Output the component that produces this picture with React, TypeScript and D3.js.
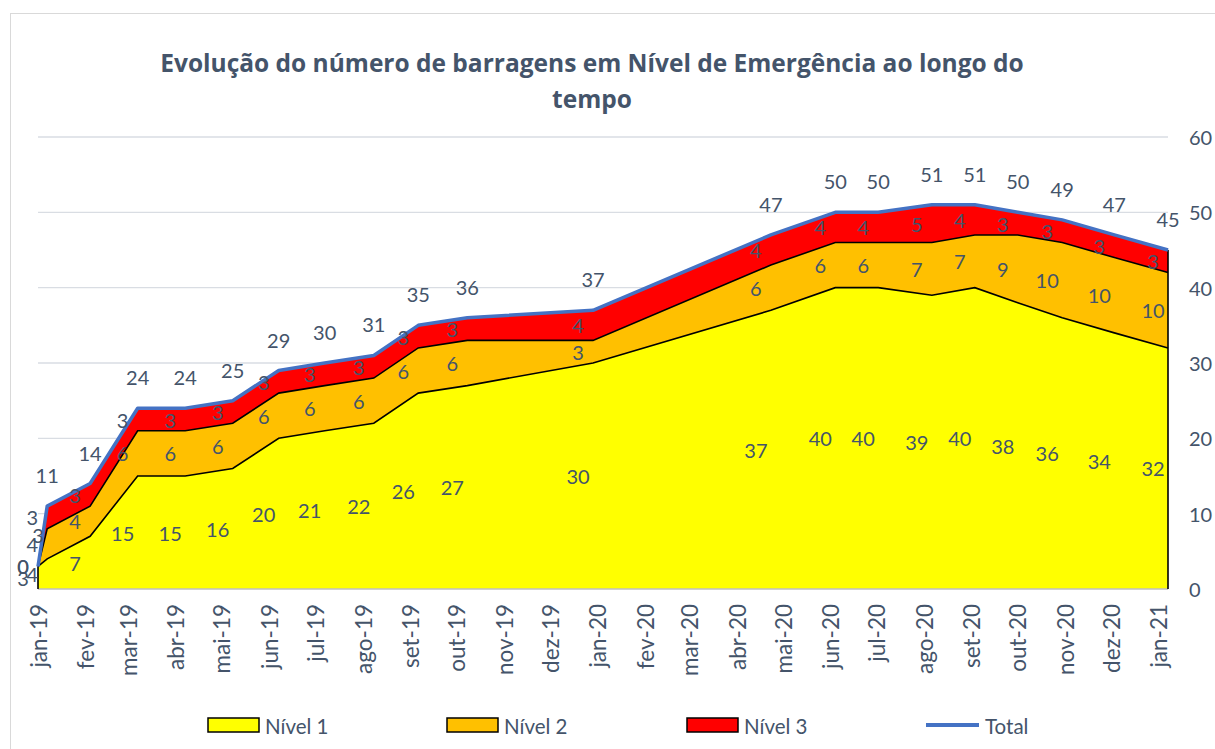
import React from "react";
import * as d3 from "d3";

const dates = [
  "2019-01-01", "2019-01-07", "2019-02-04", "2019-03-07", "2019-04-07", "2019-05-08",
  "2019-06-07", "2019-07-07", "2019-08-08", "2019-09-06", "2019-10-08", "2019-12-29",
  "2020-04-23", "2020-06-04", "2020-07-02", "2020-08-06", "2020-09-03", "2020-10-01",
  "2020-10-30", "2020-12-03", "2021-01-07",
];
const nivel1 = [3, 4, 7, 15, 15, 16, 20, 21, 22, 26, 27, 30, 37, 40, 40, 39, 40, 38, 36, 34, 32];
const nivel2 = [0, 4, 4, 6, 6, 6, 6, 6, 6, 6, 6, 3, 6, 6, 6, 7, 7, 9, 10, 10, 10];
const nivel3 = [0, 3, 3, 3, 3, 3, 3, 3, 3, 3, 3, 4, 4, 4, 4, 5, 4, 3, 3, 3, 3];
const total = [3, 11, 14, 24, 24, 25, 29, 30, 31, 35, 36, 37, 47, 50, 50, 51, 51, 50, 49, 47, 45];

const monthNames = ["jan", "fev", "mar", "abr", "mai", "jun", "jul", "ago", "set", "out", "nov", "dez"];
const yTicks = [0, 10, 20, 30, 40, 50, 60];
const seriesNames = ["Nível 1", "Nível 2", "Nível 3"];
const seriesColors = ["#FFFF00", "#FFC000", "#FF0000"];
const titleLines = ["Evolução do número de barragens em Nível de Emergência ao longo do", "tempo"];

const W = 1215;
const H = 749;
const FONT = "Lato, 'Open Sans', sans-serif";
const TXT = "#44546A";

export default function App() {
  const parse = d3.timeParse("%Y-%m-%d");
  const xs = dates.map((d) => parse(d) as Date);
  const x = d3.scaleTime().domain([xs[0], xs[xs.length - 1]]).range([38, 1168]);
  const y = d3.scaleLinear().domain([0, 60]).range([589, 137]);

  const rows = xs.map((d, i) => ({ d, a: nivel1[i], b: nivel2[i], c: nivel3[i], t: total[i] }));
  const stack = d3.stack<any>().keys(["a", "b", "c"])(rows);

  const area = d3
    .area<any>()
    .x((p: any) => x(p.data.d))
    .y0((p: any) => y(p[0]))
    .y1((p: any) => y(p[1]));
  const topLine = d3
    .line<any>()
    .x((p: any) => x(p.data.d))
    .y((p: any) => y(p[1]));
  const totalLine = d3
    .line<any>()
    .x((r: any) => x(r.d))
    .y((r: any) => y(r.t));

  const monthTicks = d3.timeMonth.range(xs[0], d3.timeDay.offset(xs[xs.length - 1], 1));
  const fmtTick = (d: Date) => `${monthNames[d.getMonth()]}-${String(d.getFullYear()).slice(2)}`;

  const first = rows[0];
  const last = rows[rows.length - 1];

  const legendX = [208, 447, 687];

  return (
    <svg
      width={W}
      height={H}
      style={{ position: "absolute", left: 0, top: 0, background: "#fff" }}
      fontFamily={FONT}
    >
      <rect x={10.5} y={13.5} width={W + 10} height={H + 10} fill="#fff" stroke="#D9D9D9" strokeWidth={1} />

      {titleLines.map((t, i) => (
        <text
          key={i}
          x={592}
          y={62 + i * 36}
          textAnchor="middle"
          dominantBaseline="central"
          fontSize={24.5}
          fontWeight={700}
          fontFamily="'Open Sans', sans-serif"
          fill={TXT}
        >
          {t}
        </text>
      ))}

      {yTicks.map((v) => (
        <g key={v}>
          {v > 0 && <line x1={38} x2={1168} y1={y(v)} y2={y(v)} stroke="#D9DDE3" strokeWidth={1.3} />}
          <text x={1189} y={y(v)} dominantBaseline="central" fontSize={20} fill={TXT}>
            {v}
          </text>
        </g>
      ))}

      {stack.map((s, i) => (
        <path key={i} d={area(s) || ""} fill={seriesColors[i]} />
      ))}
      <line x1={38} x2={1168} y1={y(0)} y2={y(0)} stroke="#BFBFBF" strokeWidth={1.5} />
      {stack.map((s, i) => (
        <path key={"l" + i} d={topLine(s) || ""} fill="none" stroke="#000" strokeWidth={1.6} />
      ))}
      <line x1={x(first.d)} x2={x(first.d)} y1={y(0)} y2={y(first.t)} stroke="#000" strokeWidth={1.6} />
      <line x1={x(last.d)} x2={x(last.d)} y1={y(0)} y2={y(last.t)} stroke="#000" strokeWidth={1.6} />
      <path d={totalLine(rows) || ""} fill="none" stroke="#4472C4" strokeWidth={3.5} strokeLinejoin="round" />

      {stack.map((s, i) =>
        s.map((p: any, j: number) => (
          <text
            key={`t${i}-${j}`}
            x={x(p.data.d) - 15}
            y={y((p[0] + p[1]) / 2)}
            textAnchor="middle"
            dominantBaseline="central"
            fontSize={20}
            fill={TXT}
          >
            {p[1] - p[0]}
          </text>
        ))
      )}
      {rows.map((r, j) => (
        <text
          key={"tot" + j}
          x={x(r.d)}
          y={y(r.t) - 31}
          textAnchor="middle"
          dominantBaseline="central"
          fontSize={20}
          fill={TXT}
        >
          {r.t}
        </text>
      ))}

      {monthTicks.map((d, i) => (
        <text
          key={"m" + i}
          transform={`translate(${x(d)},604) rotate(-90)`}
          textAnchor="end"
          dominantBaseline="central"
          fontSize={22.5}
          fill={TXT}
        >
          {fmtTick(d)}
        </text>
      ))}

      {seriesNames.map((n, i) => (
        <g key={n}>
          <rect x={legendX[i]} y={718} width={51} height={14} fill={seriesColors[i]} stroke="#000" strokeWidth={1.5} />
          <text x={legendX[i] + 57} y={726} dominantBaseline="central" fontSize={20.5} fill={TXT}>
            {n}
          </text>
        </g>
      ))}
      <line x1={926} x2={979} y1={725} y2={725} stroke="#4472C4" strokeWidth={4} />
      <text x={985} y={726} dominantBaseline="central" fontSize={20.5} fill={TXT}>
        Total
      </text>
    </svg>
  );
}
